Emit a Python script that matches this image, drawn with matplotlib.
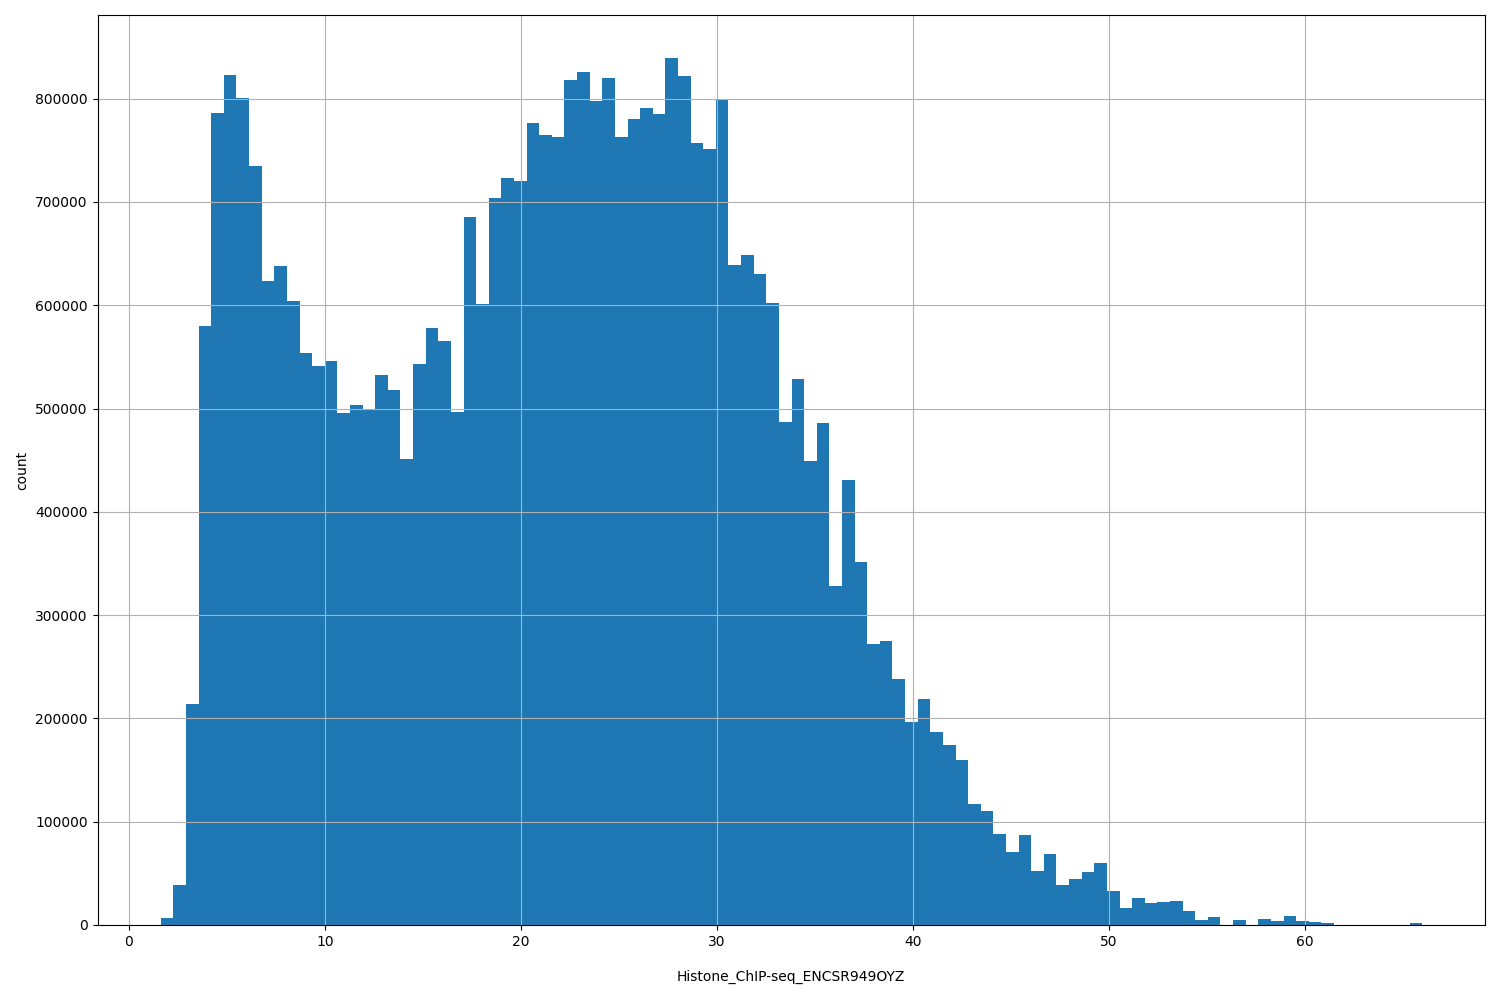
import numpy as np
import matplotlib
matplotlib.use("Agg")
import matplotlib.pyplot as plt

x_min, x_max = 1.63, 66.0
counts = [7000, 39000, 214000, 580000, 786000, 823000, 801000, 735000, 623000, 638000,
          604000, 554000, 541000, 546000, 496000, 503000, 499000, 532000, 518000, 451000,
          543000, 578000, 565000, 497000, 685000, 601000, 704000, 723000, 720000, 776000,
          765000, 763000, 818000, 826000, 798000, 820000, 763000, 780000, 791000, 785000,
          839000, 822000, 757000, 751000, 800000, 639000, 649000, 630000, 602000, 487000,
          529000, 449000, 486000, 328000, 431000, 351000, 272000, 275000, 238000, 197000,
          219000, 187000, 174000, 160000, 117000, 110000, 88000, 71000, 87000, 52000,
          69000, 39000, 45000, 51000, 60000, 33000, 16000, 26000, 21000, 22000,
          23000, 14000, 5000, 8000, 0, 5000, 0, 6000, 4000, 9000,
          4000, 3000, 2000, 0, 0, 0, 0, 0, 0, 2000]

edges = np.linspace(x_min, x_max, len(counts) + 1)
fig = plt.figure(figsize=(15, 10), dpi=100)
ax = fig.add_axes([0.065, 0.075, 0.925, 0.91])
ax.bar(edges[:-1], counts, width=np.diff(edges), align='edge', color='#1f77b4')
ax.grid(True, color='#b0b0b0')
ax.set_xlim(-1.6, 69.2)
ax.set_xlabel('Histone_ChIP-seq_ENCSR949OYZ', labelpad=15)
ax.set_ylabel('count')
ax.ticklabel_format(axis='y', style='plain')
fig.savefig('out.png')
